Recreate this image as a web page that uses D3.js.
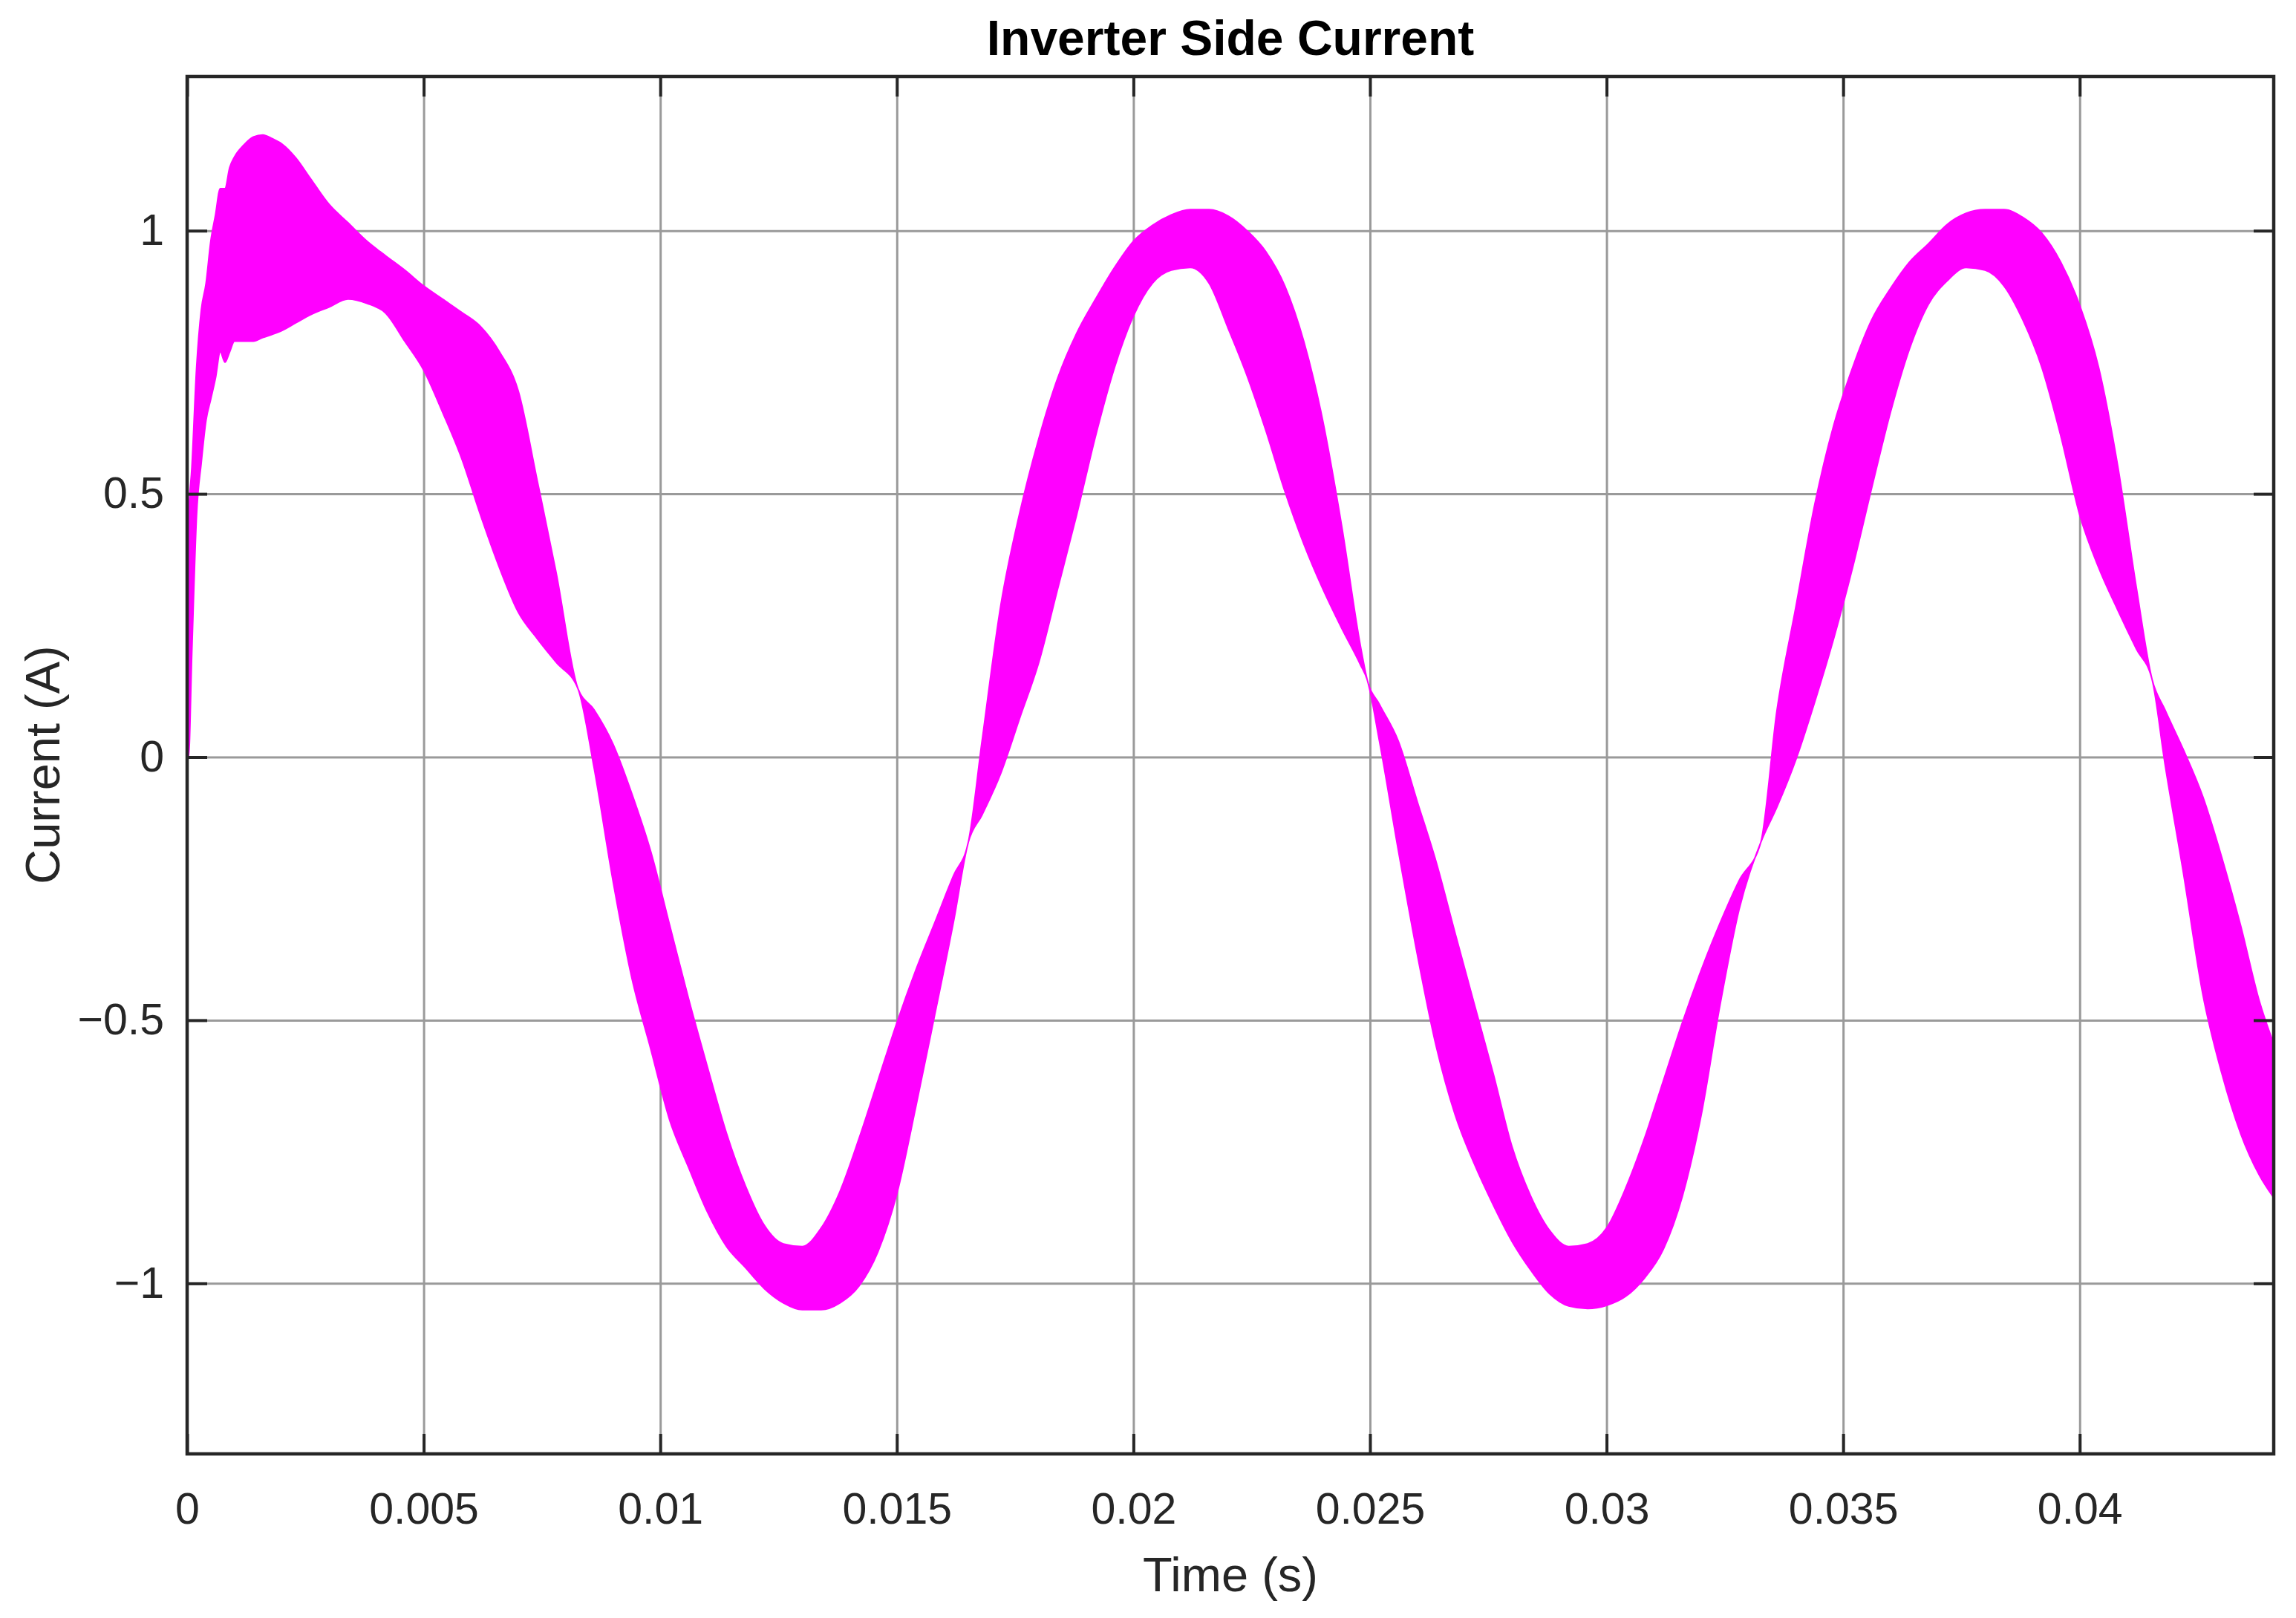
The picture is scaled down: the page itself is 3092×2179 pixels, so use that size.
<!DOCTYPE html>
<html>
<head>
<meta charset="utf-8">
<script src="https://cdn.jsdelivr.net/npm/d3@7"></script>
<style>
  html, body { margin: 0; padding: 0; background: #ffffff; }
  svg { display: block; }
</style>
</head>
<body>
<svg id="chart" width="3092" height="2179"></svg>
<script>
// ---------------- data ----------------
const chartTitle = "Inverter Side Current";
const xLabel = "Time (s)";
const yLabel = "Current (A)";

const xTicks = [0, 0.005, 0.01, 0.015, 0.02, 0.025, 0.03, 0.035, 0.04];
const xTickLabels = ["0", "0.005", "0.01", "0.015", "0.02", "0.025", "0.03", "0.035", "0.04"];
const yTicks = [-1, -0.5, 0, 0.5, 1];
const yTickLabels = ["\u22121", "\u22120.5", "0", "0.5", "1"];

const xDomain = [0, 0.0441];
const yDomain = [-1.324, 1.293];

// time samples (s)
const time = [
  0, 0.00003, 0.0001, 0.0002, 0.0003, 0.0004, 0.0005, 0.0006, 0.0007, 0.0008, 0.0009,
  0.001, 0.0012, 0.0014, 0.0016, 0.0018, 0.002, 0.0023, 0.0026, 0.003, 0.0034, 0.0038,
  0.0042, 0.0046, 0.005, 0.0054, 0.0058, 0.0062, 0.0066, 0.007, 0.0074, 0.0078, 0.00826,
  0.0086, 0.009, 0.0094, 0.0098, 0.0102, 0.0106, 0.011, 0.0114, 0.0118, 0.0122, 0.0126,
  0.013, 0.0134, 0.0138, 0.0142, 0.0146, 0.015, 0.0154, 0.0158, 0.0162, 0.01651,
  0.0168, 0.0172, 0.0176, 0.018, 0.0184, 0.0188, 0.0192, 0.0196, 0.02, 0.0204, 0.0208,
  0.0212, 0.0216, 0.022, 0.0224, 0.0228, 0.0232, 0.0236, 0.024, 0.0244, 0.0248, 0.02494,
  0.0252, 0.0256, 0.026, 0.0264, 0.0268, 0.0272, 0.0276, 0.028, 0.0284, 0.0288, 0.0292,
  0.0296, 0.03, 0.0304, 0.0308, 0.0312, 0.0316, 0.032, 0.0324, 0.0328, 0.03326,
  0.0336, 0.034, 0.0344, 0.0348, 0.0352, 0.0356, 0.036, 0.0364, 0.0368, 0.0372, 0.0376,
  0.038, 0.0384, 0.0388, 0.0392, 0.0396, 0.04, 0.0404, 0.0408, 0.0412, 0.04153,
  0.0418, 0.0422, 0.0426, 0.043, 0.0434, 0.0438, 0.0441
];

// upper envelope of the switching-ripple band (A)
const currentUpper = [
  0, 0.45, 0.55, 0.74, 0.85, 0.90, 0.98, 1.03, 1.08, 1.08, 1.12,
  1.14, 1.163, 1.178, 1.182, 1.175, 1.165, 1.138, 1.10, 1.05, 1.015, 0.98,
  0.952, 0.925, 0.895, 0.87, 0.845, 0.818, 0.77, 0.695, 0.525, 0.35, 0.13,
  0.09, 0.025, -0.07, -0.18, -0.32, -0.46, -0.59, -0.715, -0.815, -0.89, -0.925,
  -0.93, -0.895, -0.825, -0.725, -0.615, -0.505, -0.405, -0.315, -0.225, -0.162,
  0.03, 0.29, 0.465, 0.605, 0.72, 0.805, 0.87, 0.93, 0.98, 1.01, 1.03,
  1.04, 1.04, 1.028, 1.0, 0.96, 0.895, 0.79, 0.64, 0.44, 0.21, 0.147,
  0.10, 0.03, -0.085, -0.2, -0.335, -0.468, -0.6, -0.74, -0.835, -0.9, -0.93,
  -0.925, -0.895, -0.82, -0.725, -0.615, -0.505, -0.405, -0.315, -0.235, -0.162,
  0.088, 0.285, 0.48, 0.63, 0.74, 0.83, 0.89, 0.94, 0.975, 1.012, 1.033,
  1.04, 1.04, 1.025, 0.995, 0.94, 0.858, 0.74, 0.555, 0.32, 0.147,
  0.09, 0.012, -0.075, -0.19, -0.32, -0.465, -0.545
];

// lower envelope of the switching-ripple band (A)
const currentLower = [
  0, 0, 0.2, 0.46, 0.56, 0.64, 0.68, 0.72, 0.77, 0.75, 0.77,
  0.79, 0.79, 0.79, 0.797, 0.803, 0.81, 0.825, 0.84, 0.855, 0.87, 0.862,
  0.843, 0.79, 0.735, 0.655, 0.568, 0.46, 0.36, 0.275, 0.225, 0.18, 0.13,
  -0.02, -0.235, -0.42, -0.555, -0.69, -0.78, -0.865, -0.93, -0.97, -1.01, -1.037,
  -1.05, -1.05, -1.037, -1.005, -0.94, -0.83, -0.665, -0.49, -0.312, -0.162,
  -0.11, -0.03, 0.075, 0.18, 0.32, 0.46, 0.61, 0.74, 0.838, 0.9, 0.925,
  0.93, 0.9, 0.815, 0.725, 0.62, 0.505, 0.405, 0.32, 0.245, 0.175, 0.147,
  0.03, -0.178, -0.375, -0.55, -0.68, -0.772, -0.85, -0.92, -0.975, -1.02, -1.043,
  -1.048, -1.042, -1.025, -0.99, -0.935, -0.835, -0.68, -0.47, -0.29, -0.162,
  -0.095, -0.005, 0.105, 0.225, 0.36, 0.51, 0.655, 0.775, 0.86, 0.905, 0.93,
  0.925, 0.895, 0.83, 0.74, 0.61, 0.46, 0.36, 0.28, 0.205, 0.147,
  -0.012, -0.225, -0.45, -0.6, -0.715, -0.795, -0.837
];

// ---------------- layout ----------------
const W = 3092, H = 2179;
const plot = { left: 252, top: 103, right: 3062, bottom: 1958 };
const pw = plot.right - plot.left, ph = plot.bottom - plot.top;
const FONT = "'Liberation Sans', Arial, Helvetica, sans-serif";
const TEXT = "#262626";

const svg = d3.select("#chart");
svg.append("rect").attr("width", W).attr("height", H).attr("fill", "#ffffff");

const x = d3.scaleLinear().domain(xDomain).range([0, pw]);
const y = d3.scaleLinear().domain(yDomain).range([ph, 0]);

const g = svg.append("g").attr("transform", `translate(${plot.left},${plot.top})`);

// grid
const gridX = g.append("g").attr("transform", `translate(0,${ph})`)
  .call(d3.axisBottom(x).tickValues(xTicks).tickSize(-ph).tickFormat(""));
const gridY = g.append("g")
  .call(d3.axisLeft(y).tickValues(yTicks).tickSize(-pw).tickFormat(""));
[gridX, gridY].forEach(gg => {
  gg.select(".domain").remove();
  gg.selectAll(".tick line").attr("stroke", "#9a9a9a").attr("stroke-width", 3);
});

// clip
svg.append("defs").append("clipPath").attr("id", "clip")
  .append("rect").attr("width", pw).attr("height", ph);

// data band
const rows = time.map((t, i) => ({ t: t, hi: currentUpper[i], lo: currentLower[i] }));
const area = d3.area()
  .x(d => x(d.t))
  .y0(d => y(d.lo))
  .y1(d => y(d.hi))
  .curve(d3.curveMonotoneX);
g.append("path")
  .datum(rows)
  .attr("clip-path", "url(#clip)")
  .attr("d", area)
  .attr("fill", "#ff00ff")
  .attr("stroke", "#ff00ff")
  .attr("stroke-width", 2);

// axes with inward ticks
const tickLen = 27;
const axB = g.append("g").attr("transform", `translate(0,${ph})`)
  .call(d3.axisBottom(x).tickValues(xTicks).tickFormat((d, i) => xTickLabels[i])
    .tickSizeInner(-tickLen).tickSizeOuter(0).tickPadding(52));
const axL = g.append("g")
  .call(d3.axisLeft(y).tickValues(yTicks).tickFormat((d, i) => yTickLabels[i])
    .tickSizeInner(-tickLen).tickSizeOuter(0).tickPadding(31));
const axT = g.append("g")
  .call(d3.axisTop(x).tickValues(xTicks).tickFormat("")
    .tickSizeInner(-tickLen).tickSizeOuter(0));
const axR = g.append("g").attr("transform", `translate(${pw},0)`)
  .call(d3.axisRight(y).tickValues(yTicks).tickFormat("")
    .tickSizeInner(-tickLen).tickSizeOuter(0));
[axB, axL, axT, axR].forEach(a => {
  a.select(".domain").remove();
  a.selectAll(".tick line").attr("stroke", "#262626").attr("stroke-width", 4);
  a.selectAll(".tick text")
    .attr("font-family", FONT).attr("font-size", 59).attr("fill", TEXT);
});

// box
g.append("rect")
  .attr("x", 0).attr("y", 0).attr("width", pw).attr("height", ph)
  .attr("fill", "none").attr("stroke", "#262626").attr("stroke-width", 4.5);

// title and labels
svg.append("text")
  .attr("x", plot.left + pw / 2).attr("y", 74)
  .attr("text-anchor", "middle")
  .attr("font-family", FONT).attr("font-weight", "bold").attr("font-size", 66)
  .attr("fill", "#000000")
  .text(chartTitle);

svg.append("text")
  .attr("x", plot.left + pw / 2).attr("y", 2143)
  .attr("text-anchor", "middle")
  .attr("font-family", FONT).attr("font-size", 65)
  .attr("fill", TEXT)
  .text(xLabel);

svg.append("text")
  .attr("transform", `translate(80,${1030}) rotate(-90)`)
  .attr("text-anchor", "middle")
  .attr("font-family", FONT).attr("font-size", 65)
  .attr("fill", TEXT)
  .text(yLabel);
</script>
</body>
</html>
